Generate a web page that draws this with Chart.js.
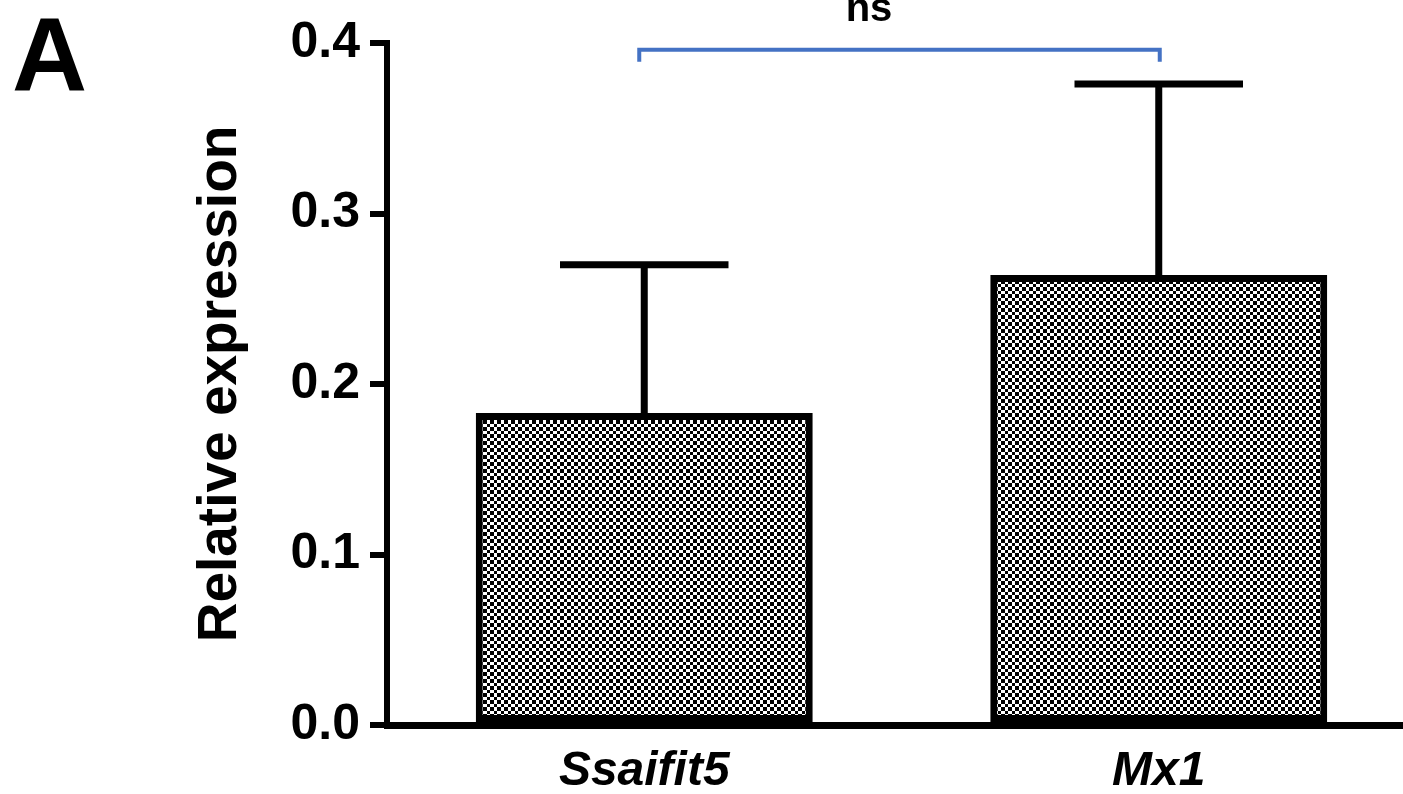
<!DOCTYPE html>
<html>
<head>
<meta charset="utf-8">
<script src="https://cdn.jsdelivr.net/npm/chart.js@4"></script>
<style>
  html, body { margin: 0; padding: 0; background: #fff; overflow: hidden; }
  #wrap { position: relative; width: 1416px; height: 794px; }
</style>
</head>
<body>
<div id="wrap"><canvas id="expr"></canvas></div>
<script>
/*_____________________DATA____________________*/

const genes = ['Ssaifit5', 'Mx1'];
const means = [0.183, 0.264];
const errors = [0.087, 0.112];   // upper error bar length
const yTicks = [0.0, 0.1, 0.2, 0.3, 0.4];
const sigLabel = 'ns';
const sigLevel = 0.396;

/*_____________________CHECKER_FILL____________________*/

// 14px tile, cells of 4/3/4/3 px so the checks stay crisp
function checker() {
  const b = [0, 4, 7, 11, 14];
  const c = document.createElement('canvas');
  c.width = 14; c.height = 14;
  const g = c.getContext('2d');
  g.fillStyle = '#fff';
  g.fillRect(0, 0, 14, 14);
  g.fillStyle = '#000';
  for (let r = 0; r < 4; r++) {
    for (let k = 0; k < 4; k++) {
      if ((r + k) % 2 === 0) g.fillRect(b[k], b[r], b[k + 1] - b[k], b[r + 1] - b[r]);
    }
  }
  return g.createPattern(c, 'repeat');
}

/*_____________________PLUGINS____________________*/

// error bars (upper only) with caps
const errorBars = {
  id: 'errorBars',
  afterDatasetsDraw(chart) {
    const ctx = chart.ctx;
    const meta = chart.getDatasetMeta(0);
    const y = chart.scales.y;
    ctx.save();
    ctx.strokeStyle = '#000';
    ctx.lineWidth = 7;
    ctx.lineCap = 'butt';
    meta.data.forEach((bar, i) => {
      const top = y.getPixelForValue(means[i] + errors[i]);
      const half = bar.width / 4;
      ctx.beginPath();
      ctx.moveTo(bar.x, bar.y);
      ctx.lineTo(bar.x, top);
      ctx.moveTo(bar.x - half, top);
      ctx.lineTo(bar.x + half, top);
      ctx.stroke();
    });
    ctx.restore();
  }
};

// significance bracket and panel letter
const annotations = {
  id: 'annotations',
  afterDraw(chart) {
    const ctx = chart.ctx;
    const meta = chart.getDatasetMeta(0);
    const y = chart.scales.y;
    const yb = y.getPixelForValue(sigLevel);
    const x1 = meta.data[0].x - 5;
    const x2 = meta.data[1].x + 1;
    ctx.save();
    ctx.strokeStyle = '#4472c4';
    ctx.lineWidth = 4;
    ctx.beginPath();
    ctx.moveTo(x1, yb + 12);
    ctx.lineTo(x1, yb);
    ctx.lineTo(x2, yb);
    ctx.lineTo(x2, yb + 12);
    ctx.stroke();

    ctx.fillStyle = '#000';
    ctx.textAlign = 'center';
    ctx.textBaseline = 'alphabetic';
    ctx.font = 'bold 40px "Liberation Sans", Arial, sans-serif';
    ctx.fillText(sigLabel, 869, 21);

    ctx.textAlign = 'left';
    ctx.font = 'bold 104px "Liberation Sans", Arial, sans-serif';
    ctx.fillText('A', 12, 90);
    ctx.restore();
  }
};

/*_____________________CHART____________________*/

const expr = document.getElementById('expr');
const expr_setup = {
  labels: genes,
  datasets: [
    {
      label: 'Relative expression',
      data: means,
      backgroundColor: checker(),
      borderColor: '#000',
      borderWidth: 7,
      borderSkipped: false,
      categoryPercentage: 1,
      barPercentage: 0.655
    }
  ]
}

new Chart(expr, {
  type: 'bar',
  data: expr_setup,
  plugins: [errorBars, annotations],
  options: {
    responsive: true,
    maintainAspectRatio: false,
    animation: false,
    layout: { padding: { top: 43, left: 188, right: 0, bottom: 0 } },
    plugins: { legend: { display: false }, tooltip: { enabled: false } },
    scales: {
      x: {
        grid: { display: false },
        border: { display: true, color: '#000', width: 7 },
        ticks: {
          color: '#000',
          padding: 10,
          font: { family: '"Liberation Sans", Arial, sans-serif', size: 48, weight: 'bold', style: 'italic' }
        },
        afterFit(s) { s.height = 794 - 725; }
      },
      y: {
        min: 0,
        max: 0.4,
        afterBuildTicks(s) { s.ticks = yTicks.map(v => ({ value: v })); },
        grid: { drawOnChartArea: false, drawTicks: true, tickLength: 17, lineWidth: 6, color: '#000' },
        border: { display: true, color: '#000', width: 6 },
        ticks: {
          color: '#000',
          padding: 10,
          callback: v => v.toFixed(1),
          font: { family: '"Liberation Sans", Arial, sans-serif', size: 50, weight: 'bold' }
        },
        title: {
          display: true,
          text: 'Relative expression',
          color: '#000',
          padding: { top: 0, bottom: 0 },
          font: { family: '"Liberation Sans", Arial, sans-serif', size: 55, weight: 'bold' }
        },
        afterFit(s) { s.width = 387 - 188; }
      }
    }
  }
});
</script>
</body>
</html>
